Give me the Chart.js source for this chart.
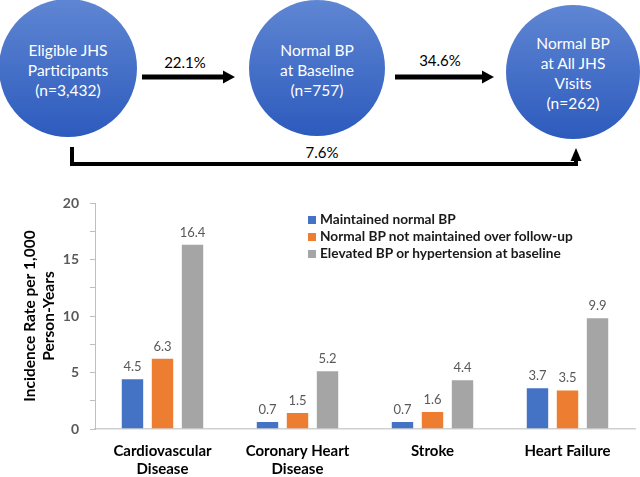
<!DOCTYPE html>
<html>
<head>
<meta charset="utf-8">
<script src="https://cdn.jsdelivr.net/npm/chart.js@4.4.1/dist/chart.umd.min.js"></script>
<style>
  html, body { margin: 0; padding: 0; background: #fff; }
  #wrap { position: relative; width: 640px; height: 477px; overflow: hidden; font-family: Lato, "Open Sans", sans-serif; }
  #diagram { position: absolute; left: 0; top: 0; }
  #chartBox { position: absolute; left: 0; top: 180px; width: 640px; height: 297px; }
  #legend { position: absolute; left: 308px; top: 210px; font: bold 13.7px Lato, sans-serif; color: #1a1a1a; }
  #legend .item { height: 17px; line-height: 17px; white-space: nowrap; }
  #legend .sw { display: inline-block; width: 8px; height: 8px; margin-right: 4px; vertical-align: 0px; }
</style>
</head>
<body>
<div id="wrap">
  <svg id="diagram" width="640" height="180" xmlns="http://www.w3.org/2000/svg">
    <defs>
      <linearGradient id="cg" x1="0" y1="0" x2="0" y2="1">
        <stop offset="0" stop-color="#5f86d3"/>
        <stop offset="1" stop-color="#2d5bbd"/>
      </linearGradient>
    </defs>
    <circle cx="68" cy="68" r="69" fill="url(#cg)"/>
    <circle cx="317" cy="68" r="68" fill="url(#cg)"/>
    <circle cx="573" cy="72" r="67" fill="url(#cg)"/>
    <g font-family="Lato, sans-serif" font-size="15.5" fill="#ffffff" text-anchor="middle" dominant-baseline="central">
      <text x="68" y="50">Eligible JHS</text>
      <text x="68" y="70">Participants</text>
      <text x="68" y="90">(n=3,432)</text>
      <text x="317" y="50">Normal BP</text>
      <text x="317" y="70">at Baseline</text>
      <text x="317" y="90">(n=757)</text>
      <text x="573" y="43">Normal BP</text>
      <text x="573" y="63">at All JHS</text>
      <text x="573" y="83">Visits</text>
      <text x="573" y="103">(n=262)</text>
    </g>
    <!-- arrows -->
    <g fill="#000" stroke="none">
      <rect x="142" y="74.5" width="82" height="5"/>
      <polygon points="223,70.5 235,77 223,83.5"/>
      <rect x="395" y="74.5" width="88" height="5"/>
      <polygon points="482,70.5 494,77 482,83.5"/>
      <rect x="70" y="147" width="4" height="19"/>
      <rect x="70" y="162" width="508" height="4"/>
      <rect x="574" y="158" width="4" height="8"/>
      <polygon points="570.5,161 576,148 581.5,161"/>
    </g>
    <g font-family="Lato, sans-serif" font-size="15" fill="#000" text-anchor="middle" dominant-baseline="central">
      <text x="185" y="62">22.1%</text>
      <text x="440" y="60">34.6%</text>
      <text x="322" y="152">7.6%</text>
    </g>
  </svg>
  <div id="chartBox"><canvas id="c" width="640" height="297"></canvas></div>
  <div id="legend"></div>
</div>
<script>
const categories = [["Cardiovascular", "Disease"], ["Coronary Heart", "Disease"], "Stroke", "Heart Failure"];
const seriesNames = [
  "Maintained normal BP",
  "Normal BP not maintained over follow-up",
  "Elevated BP or hypertension at baseline"
];
const maintainedNormal = [4.5, 0.7, 0.7, 3.7];
const notMaintained = [6.3, 1.5, 1.6, 3.5];
const elevatedBaseline = [16.4, 5.2, 4.4, 9.9];
const seriesColors = ["#4472C4", "#ED7D31", "#A5A5A5"];
const yTitle = ["Incidence Rate per 1,000", "Person-Years"];

const dataLabels = {
  id: 'dataLabels',
  afterDatasetsDraw(chart) {
    const ctx = chart.ctx;
    ctx.save();
    ctx.font = '13px Lato, sans-serif';
    ctx.fillStyle = '#595959';
    ctx.textAlign = 'center';
    ctx.textBaseline = 'alphabetic';
    chart.data.datasets.forEach((ds, i) => {
      const meta = chart.getDatasetMeta(i);
      meta.data.forEach((el, j) => {
        ctx.fillText(ds.data[j].toFixed(1), el.x, el.y - 7);
      });
    });
    ctx.restore();
  }
};

const allSeries = [maintainedNormal, notMaintained, elevatedBaseline];
const chart = new Chart(document.getElementById('c'), {
  type: 'bar',
  data: {
    labels: categories,
    datasets: allSeries.map((d, i) => ({
      label: seriesNames[i],
      data: d,
      backgroundColor: seriesColors[i],
      borderColor: 'rgba(255,255,255,0.35)',
      borderWidth: 1,
      categoryPercentage: 0.667,
      barPercentage: 0.78
    }))
  },
  options: {
    responsive: false,
    animation: false,
    devicePixelRatio: 1,
    layout: { padding: { top: 23, right: 5, left: 0, bottom: 0 } },
    plugins: {
      legend: { display: false },
      tooltip: { enabled: false }
    },
    scales: {
      x: {
        afterFit(s) { s.height = 48; },
        grid: { display: false, drawTicks: false },
        border: { display: true, color: '#d0d0d0', width: 1.5 },
        ticks: {
          padding: 13,
          color: '#000',
          font: { family: 'Lato, sans-serif', size: 15, weight: 'bold', lineHeight: 1.2 },
          maxRotation: 0
        }
      },
      y: {
        min: 0, max: 20,
        afterFit(s) { s.width = 95; },
        grid: { drawOnChartArea: false, drawTicks: true, tickLength: 5, color: '#bfbfbf' },
        border: { display: true, color: '#bfbfbf', width: 1 },
        ticks: {
          stepSize: 2.5,
          padding: 11,
          color: '#595959',
          font: { family: 'Lato, sans-serif', size: 14, weight: 'bold' },
          callback: v => (v % 5 === 0 ? String(v) : '')
        },
        title: {
          display: true,
          text: yTitle,
          color: '#000',
          padding: { top: 21, bottom: 0 },
          font: { family: 'Lato, sans-serif', size: 15.5, weight: 'bold', lineHeight: 1.22 }
        }
      }
    }
  },
  plugins: [dataLabels]
});

// HTML legend built from the chart's datasets
const legendEl = document.getElementById('legend');
chart.data.datasets.forEach(ds => {
  const item = document.createElement('div');
  item.className = 'item';
  const sw = document.createElement('span');
  sw.className = 'sw';
  sw.style.background = ds.backgroundColor;
  item.appendChild(sw);
  item.appendChild(document.createTextNode(ds.label));
  legendEl.appendChild(item);
});
</script>
</body>
</html>
